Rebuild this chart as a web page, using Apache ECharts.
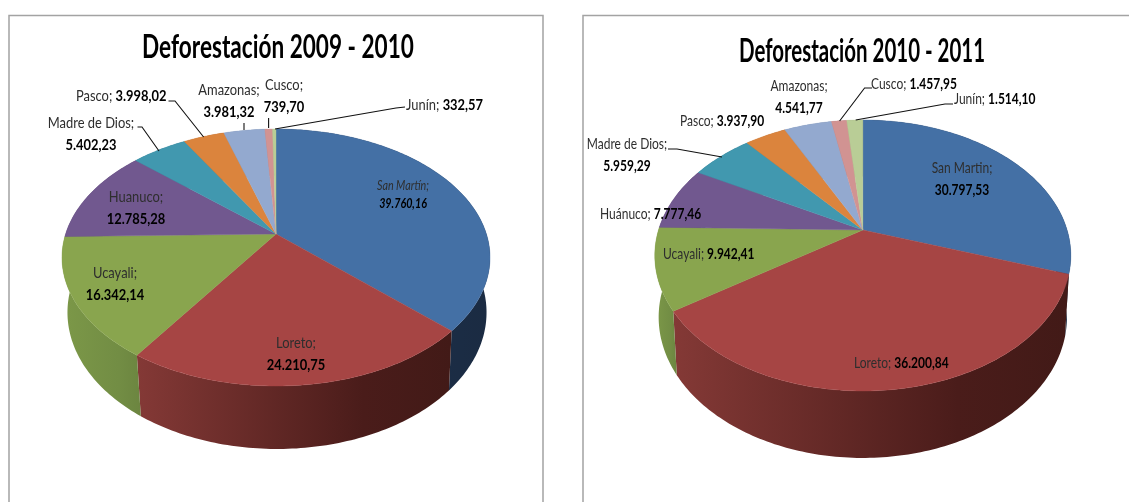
<!DOCTYPE html>
<html><head><meta charset="utf-8">
<style>html,body{margin:0;padding:0;background:#fff}#c{width:1129px;height:502px}</style>
<script src="https://cdn.jsdelivr.net/npm/echarts@6/dist/echarts.min.js"></script></head>
<body><div id="c"></div>
<script>
const names2010 = ['San Martín','Loreto','Ucayali','Huanuco','Madre de Dios','Pasco','Amazonas','Cusco','Junín'];
const values2010 = [39760.16,24210.75,16342.14,12785.28,5402.23,3998.02,3981.32,739.70,332.57];
const names2011 = ['San Martin','Loreto','Ucayali','Huánuco','Madre de Dios','Pasco','Amazonas','Cusco','Junín'];
const values2011 = [30797.53,36200.84,9942.41,7777.46,5959.29,3937.90,4541.77,1457.95,1514.10];
const title2010 = 'Deforestación 2009 - 2010';
const title2011 = 'Deforestación 2010 - 2011';
const colors = ['#4470A5','#A64544','#89A54E','#71588F','#4198AF','#DB843D','#93A9CF','#D19392','#B9CD96'];
const sideColors = [['#1B2E48','#1B2D46','#1B2B42'],['#843936','#4A1C1A','#421A17'],['#7C9848','#728D44','#6C8540'],['#5A4672','#524068','#4A3A60'],['#33788C','#307082','#2C6878'],['#AF6A30','#A2622D','#95592A'],['#7587A6','#6D7E9A','#65758F'],['#A77675','#9B6D6C','#906564'],['#94A478','#8A9970','#808E68']];

// perspective disc parameters for each pie
const disc2010 = {cx:276,k:0.183,top:{dx:0,y0:234,A:124.2,B:210.4},bottom:{dx:1,y0:287.4,A:132,B:206}};
const disc2011 = {cx:862.8,k:0.188,top:{dx:0,y0:230,A:130.7,B:204.3},bottom:{dx:0,y0:290.7,A:135.8,B:200.5}};

const labels2010 = [
 {x:403,y:186,align:'center',two:true,italic:true,small:true},
 {x:296,y:343,align:'center',two:true},
 {x:115,y:273,align:'center',two:true},
 {x:136,y:197,align:'center',two:true},
 {x:91,y:123,align:'center',two:true},
 {x:76,y:96,align:'left'},
 {x:229,y:90,align:'center',two:true},
 {x:284,y:85,align:'center',two:true},
 {x:406,y:105,align:'left'}
];
const labels2011 = [
 {x:962,y:168,align:'center',two:true},
 {x:854,y:363,align:'left'},
 {x:663,y:254,align:'left'},
 {x:600,y:214,align:'left'},
 {x:627,y:144,align:'center',two:true},
 {x:680,y:121,align:'left'},
 {x:799,y:86,align:'center',two:true},
 {x:871,y:84,align:'left'},
 {x:954,y:99,align:'left'}
];
const leaders2010 = [null,null,null,null,
 [[137.5,127],[142,127],[159,151]],
 [[168.5,101],[175,101],[203.6,137]],
 [[244,123],[244,130]],
 [[268.6,118],[268.6,128]],
 [[405,107],[396,108],[275,129]]];
const leaders2011 = [null,null,null,null,
 [[668,149],[677,149],[722,157]],null,null,
 [[872,88],[864.6,88],[839.6,121]],
 [[953,104],[945,104],[855.7,120]]];

const fontFam = 'Lato,"Liberation Sans",sans-serif';
function fmt(v){
  const p = v.toFixed(2).split('.');
  return p[0].replace(/\B(?=(\d{3})+$)/g,'.')+','+p[1];
}
function pieSeries(names, values, disc, labels, leaders, sx){
  const total = values.reduce((a,b)=>a+b,0);
  const cum = [0];
  values.forEach(v=>cum.push(cum[cum.length-1]+v));
  function pt(f, d){
    const t = f*2*Math.PI, u = Math.sin(t), v = -Math.cos(t);
    const w = 1-disc.k*v;
    return [disc.cx + d.dx + d.B*u/w, d.y0 + d.A*v/w];
  }
  function arc(a, b, d){
    const out = [], n = Math.max(2, Math.ceil((b-a)*360));
    for(let i=0;i<=n;i++) out.push(pt(a+(b-a)*i/n, d));
    return out;
  }
  return {
    type:'custom', coordinateSystem:'none', silent:true, animation:false,
    data: values.map((v,i)=>({name:names[i],value:[v,i]})),
    renderItem(params, api){
      const i = params.dataIndex, val = api.value(0);
      const a = cum[i]/total, b = (cum[i]+val)/total;
      const ta = arc(a,b,disc.top), ba = arc(a,b,disc.bottom);
      const xs = ta.concat(ba).map(p=>p[0]);
      const children = [];
      const sidePts = ta.concat(ba.slice().reverse());
      children.push({type:'polygon',z2:1,shape:{points:sidePts},style:{
        fill:{type:'linear',global:true,x:Math.min(...xs),y:0,x2:Math.max(...xs),y2:0,
          colorStops:[{offset:0,color:sideColors[i][0]},{offset:0.72,color:sideColors[i][1]},{offset:1,color:sideColors[i][2]}]}}});
      const topPts = [[disc.cx,disc.top.y0]].concat(ta);
      children.push({type:'polygon',z2:2,shape:{points:topPts},style:{fill:colors[i],stroke:colors[i],lineWidth:0.4}});
      if(leaders[i]) children.push({type:'polyline',z2:3,shape:{points:leaders[i]},style:{fill:null,stroke:'#111',lineWidth:1.1}});
      const L = labels[i], nm = names[i]+';', vt = fmt(val);
      const size = L.small?12.5:15, st = L.italic?'italic ':'';
      const nameFont = st+size+'px '+fontFam, valFont = st+'bold '+size+'px '+fontFam;
      if(L.two){
        children.push({type:'text',z2:4,x:L.x,y:L.y,scaleX:sx,style:{text:nm,x:0,y:0,align:'center',verticalAlign:'middle',font:nameFont,fill:'#2e2e2e'}});
        children.push({type:'text',z2:4,x:L.x,y:L.y+(L.small?18:22),scaleX:sx,style:{text:vt,x:0,y:0,align:'center',verticalAlign:'middle',font:valFont,fill:'#000'}});
      } else {
        children.push({type:'text',z2:4,x:L.x,y:L.y,scaleX:sx,style:{x:0,y:0,align:'left',verticalAlign:'middle',
          text:'{n|'+nm+' }{v|'+vt+'}',
          rich:{n:{font:nameFont,fill:'#2e2e2e'},v:{font:valFont,fill:'#000'}}}});
      }
      return {type:'group',children};
    }
  };
}
const chart = echarts.init(document.getElementById('c'),null,{renderer:'canvas'});
const titleFont = 'bold 33px '+fontFam;
chart.setOption({
  animation:false,
  backgroundColor:'#fff',
  graphic:[
    {type:'polyline',shape:{points:[[9,502],[9,15.5],[543,15.5],[543,502]]},style:{fill:null,stroke:'#a3a3a3',lineWidth:1.5}},
    {type:'polyline',shape:{points:[[583,502],[583,15.5],[1129,15.5]]},style:{fill:null,stroke:'#a3a3a3',lineWidth:1.5}},
    {type:'text',x:278,y:47,scaleX:0.685,style:{text:title2010,x:0,y:0,align:'center',verticalAlign:'middle',font:titleFont,fill:'#000'}},
    {type:'text',x:862,y:51,scaleX:0.62,style:{text:title2011,x:0,y:0,align:'center',verticalAlign:'middle',font:titleFont,fill:'#000'}}
  ],
  series:[
    pieSeries(names2010,values2010,disc2010,labels2010,leaders2010,0.86),
    pieSeries(names2011,values2011,disc2011,labels2011,leaders2011,0.8)
  ]
});
</script></body></html>
